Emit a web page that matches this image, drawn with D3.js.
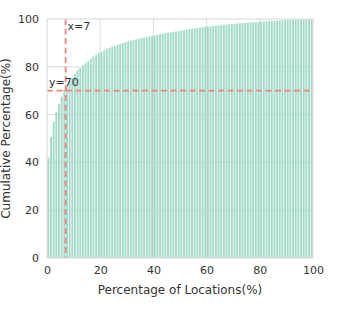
<!DOCTYPE html>
<html><head><meta charset="utf-8">
<script src="https://cdn.jsdelivr.net/npm/d3@7"></script>
<style>body{margin:0;background:#fff}svg{display:block}text{font-family:"DejaVu Sans",sans-serif}</style>
</head><body>
<svg id="c" width="338" height="310"></svg>
<script>
const locations = d3.range(1, 101);
const cumulative = [
42.0,50.7,57.0,61.0,64.5,67.5,70.5,72.5,74.0,75.5,
77.0,78.5,79.5,80.5,81.5,82.5,83.4,84.2,85.0,85.7,
86.3,86.9,87.4,87.9,88.4,88.8,89.2,89.6,90.0,90.3,
90.6,90.9,91.2,91.5,91.7,92.0,92.2,92.4,92.7,92.9,
93.1,93.4,93.6,93.8,94.0,94.2,94.4,94.6,94.8,95.0,
95.2,95.4,95.5,95.7,95.9,96.0,96.2,96.4,96.5,96.7,
96.8,96.9,97.0,97.2,97.3,97.4,97.5,97.7,97.8,97.9,
98.0,98.1,98.2,98.3,98.4,98.5,98.6,98.6,98.7,98.8,
98.9,99.0,99.0,99.1,99.2,99.3,99.3,99.4,99.5,99.6,
99.6,99.7,99.7,99.8,99.8,99.9,99.9,99.9,100.0,100.0
];
const xTicks = [0,20,40,60,80,100];
const yTicks = [0,20,40,60,80,100];
const vLine = 7, hLine = 70;
const xLabelText = "Percentage of Locations(%)";
const yLabelText = "Cumulative Percentage(%)";

const svg = d3.select("#c");
const L = 47, R = 313, T = 19, B = 258;
const x = d3.scaleLinear().domain([0,100]).range([L,R]);
const y = d3.scaleLinear().domain([0,100]).range([B,T]);

svg.append("g").selectAll("line").data(xTicks.slice(1,-1)).join("line")
  .attr("x1",d=>x(d)).attr("x2",d=>x(d)).attr("y1",T).attr("y2",B)
  .attr("stroke","#dcdcdc").attr("stroke-width",1);
svg.append("g").selectAll("line").data(yTicks.slice(1,-1)).join("line")
  .attr("y1",d=>y(d)).attr("y2",d=>y(d)).attr("x1",L).attr("x2",R)
  .attr("stroke","#dcdcdc").attr("stroke-width",1);

const bw = 0.72;
svg.append("g").selectAll("rect").data(locations).join("rect")
  .attr("x",(d)=>x(d-0.5-bw/2)).attr("width",x(bw)-x(0))
  .attr("y",(d,i)=>y(cumulative[i])).attr("height",(d,i)=>y(0)-y(cumulative[i]))
  .attr("fill","#a3dbca");

svg.append("line").attr("x1",x(vLine)).attr("x2",x(vLine)).attr("y1",T).attr("y2",B)
  .attr("stroke","#f4837b").attr("stroke-width",1.8).attr("stroke-dasharray","6,3.5");
svg.append("line").attr("x1",L).attr("x2",R).attr("y1",y(hLine)).attr("y2",y(hLine))
  .attr("stroke","#f4837b").attr("stroke-width",1.8).attr("stroke-dasharray","6,3.5");

svg.append("rect").attr("x",L).attr("y",T).attr("width",R-L).attr("height",B-T)
  .attr("fill","none").attr("stroke","#dcdcdc").attr("stroke-width",1.2);

const xa = svg.append("g").attr("transform",`translate(0,${B})`)
  .call(d3.axisBottom(x).tickValues(xTicks).tickSize(0).tickPadding(8));
const ya = svg.append("g").attr("transform",`translate(${L},0)`)
  .call(d3.axisLeft(y).tickValues(yTicks).tickSize(0).tickPadding(8));
[xa,ya].forEach(a=>{a.select(".domain").remove();
  a.selectAll("text").attr("font-size",11).attr("fill","#333").attr("font-family","DejaVu Sans");});

svg.append("text").attr("x",x(vLine)+2).attr("y",30).attr("font-size",11).attr("fill","#333").text("x="+vLine);
svg.append("text").attr("x",L+2).attr("y",y(hLine)-5).attr("font-size",11).attr("fill","#333").text("y="+hLine);

svg.append("text").attr("x",(L+R)/2).attr("y",294).attr("text-anchor","middle")
  .attr("font-size",12).attr("fill","#333").text(xLabelText);
svg.append("text").attr("transform",`translate(10,${(T+B)/2}) rotate(-90)`).attr("text-anchor","middle")
  .attr("font-size",12).attr("fill","#333").text(yLabelText);
</script>
</body></html>
